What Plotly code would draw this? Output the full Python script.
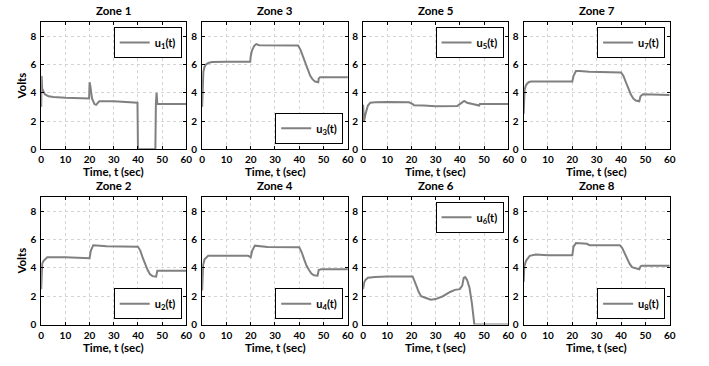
import plotly.graph_objects as go

# ---------------- data ----------------
zones = ["Zone 1", "Zone 2", "Zone 3", "Zone 4", "Zone 5", "Zone 6", "Zone 7", "Zone 8"]
labels = ["u<sub>1</sub>(t)", "u<sub>2</sub>(t)", "u<sub>3</sub>(t)", "u<sub>4</sub>(t)",
          "u<sub>5</sub>(t)", "u<sub>6</sub>(t)", "u<sub>7</sub>(t)", "u<sub>8</sub>(t)"]
x_ticks = [0, 10, 20, 30, 40, 50, 60]
y_ticks = [0, 2, 4, 6, 8]

t1 = [0, 0.15, 0.4, 0.8, 1.5, 3, 5, 10, 15, 19.8, 20, 20.3, 21, 22, 22.7, 24, 30, 39.5, 39.8, 40, 47.2, 47.4, 47.7, 48, 48.2, 60]
u1 = [3.0, 5.2, 4.3, 4.1, 3.9, 3.75, 3.7, 3.65, 3.6, 3.6, 4.75, 4.5, 3.6, 3.2, 3.15, 3.4, 3.4, 3.35, 3.3, 0, 0, 3.2, 4.0, 3.2, 3.2, 3.2]

t2 = [0, 0.4, 1, 2.5, 10, 15, 20, 20.5, 21.5, 23, 27, 40, 41, 42, 43, 44, 45, 46, 47.5, 48, 60]
u2 = [2.5, 4.3, 4.5, 4.75, 4.75, 4.72, 4.68, 5.2, 5.6, 5.58, 5.52, 5.5, 5.2, 4.7, 4.2, 3.85, 3.55, 3.42, 3.38, 3.8, 3.8]

t3 = [0, 0.2, 0.5, 1, 1.5, 2.5, 4, 10, 19.8, 20, 20.5, 21.5, 22.3, 23.5, 30, 39.5, 40.5, 41.5, 42.5, 43.5, 44.5, 45.5, 46.5, 47.8, 48, 48.5, 60]
u3 = [3.0, 5.2, 5.5, 5.85, 6.0, 6.12, 6.18, 6.2, 6.2, 6.6, 7.0, 7.35, 7.45, 7.38, 7.38, 7.35, 7.05, 6.6, 6.1, 5.6, 5.2, 4.95, 4.8, 4.75, 5.0, 5.1, 5.1]

t4 = [0, 0.4, 1, 2.5, 10, 19, 20, 20.6, 21.7, 23, 27, 40, 41, 42, 43, 44, 45, 46, 47.5, 48, 49, 60]
u4 = [2.4, 4.2, 4.6, 4.85, 4.85, 4.85, 4.75, 5.2, 5.57, 5.55, 5.48, 5.45, 5.1, 4.6, 4.15, 3.85, 3.6, 3.48, 3.45, 3.85, 3.9, 3.9]

t5 = [0, 0.4, 1, 2, 3, 5, 10, 19, 20.5, 21, 25, 30, 39, 40.5, 41.8, 43, 45, 48, 48.3, 60]
u5 = [3.15, 2.0, 2.5, 3.1, 3.3, 3.33, 3.35, 3.33, 3.2, 3.12, 3.1, 3.05, 3.07, 3.25, 3.42, 3.3, 3.2, 3.1, 3.2, 3.2]

t6 = [0, 0.5, 1, 2, 5, 10, 20.5, 21.3, 22, 23, 24, 26, 28, 30, 33, 36, 38, 40, 41, 41.6, 42.2, 43, 44, 45, 46, 60]
u6 = [2.5, 3.0, 3.15, 3.3, 3.35, 3.4, 3.4, 3.1, 2.75, 2.3, 2.0, 1.88, 1.75, 1.8, 2.0, 2.3, 2.45, 2.5, 2.75, 3.3, 3.35, 3.15, 2.6, 1.5, 0, 0]

t7 = [0, 0.4, 1, 2, 3, 10, 20, 20.5, 21.5, 23, 27, 40, 41, 42, 43, 44, 45, 46, 47.5, 48, 49, 55, 60]
u7 = [2.5, 4.2, 4.55, 4.75, 4.8, 4.8, 4.8, 5.2, 5.55, 5.55, 5.5, 5.45, 5.2, 4.75, 4.25, 3.9, 3.6, 3.45, 3.4, 3.75, 3.9, 3.9, 3.85]

t8 = [0, 0.3, 1, 2.5, 5, 10, 20, 20.5, 21.5, 23, 26, 27, 39.5, 40.5, 41.5, 42.5, 43.5, 44.5, 46, 47.5, 48, 48.5, 60]
u8 = [3.0, 4.1, 4.5, 4.85, 4.95, 4.9, 4.9, 5.5, 5.75, 5.72, 5.7, 5.6, 5.6, 5.4, 5.0, 4.6, 4.3, 4.05, 3.95, 3.9, 4.1, 4.15, 4.15]

times = [t1, t2, t3, t4, t5, t6, t7, t8]
values = [u1, u2, u3, u4, u5, u6, u7, u8]

# ---------------- layout geometry ----------------
W, H = 709, 366
col_px = [(38.7, 185.7), (201.7, 349.3), (364.7, 511.7), (527.3, 675.3)]
row_px = [(22.7, 151.7), (200.3, 330.0)]
# zone i -> (row, col)
pos = {0: (0, 0), 1: (1, 0), 2: (0, 1), 3: (1, 1), 4: (0, 2), 5: (1, 2), 6: (0, 3), 7: (1, 3)}
leg_place = ["top", "bottom", "bottom", "bottom", "top", "top", "top", "bottom"]

FONT = "Lato"
LINE_COLOR = "#808080"
TITLE_SIZE = 11.5

fig = go.Figure()
layout = dict(width=W, height=H, margin=dict(l=0, r=0, t=0, b=0),
              paper_bgcolor="white", plot_bgcolor="white", showlegend=True,
              font=dict(family=FONT, color="black"))
annotations = []

for i in range(8):
    r, c = pos[i]
    n = i + 1
    xa = "x" if n == 1 else f"x{n}"
    ya = "y" if n == 1 else f"y{n}"
    lg = "legend" if n == 1 else f"legend{n}"
    fig.add_trace(go.Scatter(x=times[i], y=values[i], mode="lines", name=labels[i],
                             line=dict(color=LINE_COLOR, width=2),
                             xaxis=xa, yaxis=ya, legend=lg))
    x0, x1 = col_px[c]
    y0, y1 = row_px[r]
    xd = [x0 / W, x1 / W]
    yd = [1 - y1 / H, 1 - y0 / H]
    axcommon = dict(showline=True, linecolor="black", linewidth=1, mirror="ticks",
                    ticks="inside", ticklen=3, tickcolor="black",
                    showgrid=True, gridcolor="#d4d4d4", griddash="3px,3px", gridwidth=1,
                    zeroline=False,
                    tickfont=dict(family=FONT, size=10, color="black", weight="bold"))
    layout["xaxis" if n == 1 else f"xaxis{n}"] = dict(
        domain=xd, range=[0, 60], tickvals=x_ticks, anchor=ya, ticklabelstandoff=1, **axcommon)
    layout["yaxis" if n == 1 else f"yaxis{n}"] = dict(
        domain=yd, range=[0, 9], tickvals=y_ticks, anchor=xa, ticklabelstandoff=2, **axcommon)

    # legend
    right = (x1 - 4.7) / W
    if leg_place[i] == "top":
        ly, lya = 1 - (y0 + 4.8) / H, "top"
    else:
        ly, lya = 1 - (y1 - 5.5) / H, "bottom"
    layout[lg] = dict(x=right, xanchor="right", y=ly, yanchor=lya,
                      bgcolor="white", bordercolor="black", borderwidth=1,
                      font=dict(family=FONT, size=11, color="black", weight="bold"),
                      itemwidth=30, tracegroupgap=0)

    # title
    cx = (x0 + x1) / 2 / W
    annotations.append(dict(text=zones[i], x=cx, y=1 - (y0 - 12) / H, xref="paper", yref="paper",
                            xanchor="center", yanchor="middle", showarrow=False, borderpad=0,
                            font=dict(family=FONT, size=TITLE_SIZE, color="black", weight="bold")))
    # x-axis title
    annotations.append(dict(text="Time, t (sec)", x=cx, y=1 - (y1 + 23) / H, xref="paper", yref="paper",
                            xanchor="center", yanchor="middle", showarrow=False, borderpad=0,
                            font=dict(family=FONT, size=TITLE_SIZE, color="black", weight="bold")))
    if c == 0:
        annotations.append(dict(text="Volts", x=19 / W, y=1 - (y0 + y1) / 2 / H, xref="paper", yref="paper",
                                xanchor="center", yanchor="middle", showarrow=False, textangle=-90,
                                borderpad=0,
                                font=dict(family=FONT, size=TITLE_SIZE, color="black", weight="bold")))

layout["annotations"] = annotations
fig.update_layout(**layout)
fig.write_html("out.html")
